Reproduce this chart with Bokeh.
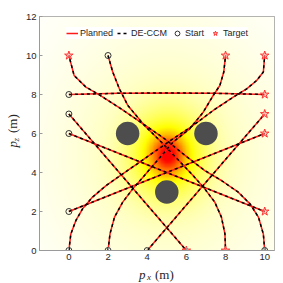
import numpy as np
from bokeh.plotting import figure
from bokeh.layouts import column, row
from bokeh.models import Range1d, Legend, LegendItem, FixedTicker
from bokeh.core.properties import value
from bokeh.embed import file_html
from bokeh.resources import INLINE

# ---------------- data ----------------
# trajectories: start -> target
path_x = [
    [0, 0.1, 0.36, 0.7, 1.21, 1.9, 2.75, 3.6, 4.45, 5.32, 6.34, 7.37, 8.39, 9.08, 9.59, 9.93, 10],
    [10, 9.93, 9.68, 9.25, 8.65, 7.79, 6.94, 5.9, 4.89, 4.03, 2.67, 1.56, 0.87, 0.27, 0],
    [2, 2.1, 2.33, 2.75, 3.26, 3.86, 4.59, 5.32, 6.17, 6.86, 7.37, 7.71, 7.91, 8],
    [2, 2.24, 2.58, 3.01, 3.86, 4.72, 5.53, 6.34, 6.94, 7.45, 7.79, 7.97, 8],
    [0, 2.5, 5, 7.5, 10],
    [0, 10],
    [0, 10],
    [0, 6],
    [4, 10],
]
path_y = [
    [0, 0.85, 1.54, 2.14, 2.74, 3.33, 3.93, 4.52, 5.12, 5.73, 6.41, 7.18, 7.86, 8.29, 8.72, 9.15, 10],
    [0, 0.85, 1.71, 2.39, 2.99, 3.59, 4.1, 4.9, 5.73, 6.33, 7.26, 7.98, 8.38, 8.97, 10],
    [0, 0.85, 1.71, 2.48, 3.16, 3.85, 4.7, 5.56, 6.24, 7.09, 7.95, 8.46, 9.15, 10],
    [10, 9.15, 8.29, 7.44, 6.41, 5.56, 4.7, 3.85, 3.16, 2.48, 1.71, 0.85, 0],
    [8, 8.06, 8.08, 8.06, 8],
    [6, 2],
    [2, 6],
    [7, 0],
    [0, 7],
]
start_x = [0, 10, 2, 2, 0, 0, 0, 0, 4]
start_y = [0, 0, 0, 10, 8, 6, 2, 7, 0]
target_x = [10, 0, 8, 8, 10, 10, 10, 6, 10]
target_y = [10, 10, 10, 0, 8, 2, 6, 0, 7]

# obstacles
obs_x = [3, 7, 5]
obs_y = [6, 6, 3]
obs_r = [0.6, 0.6, 0.6]

# background field parameters (centre, component weights and widths)
field_cx, field_cy = 5.05, 4.9
field_w = [0.55, 0.40, 0.12]
field_sigma = [0.55, 1.3, 4.0]
field_y_stretch = 1.15

x_ticks = [0, 2, 4, 6, 8, 10]
y_ticks = [0, 2, 4, 6, 8, 10, 12]
x_lim = (-1.5, 10.5)
y_lim = (0, 12)

INK = "#262626"
FRAME = "#9a9a9a"

# ---------------- main figure ----------------
MW, MH = 261, 266
p = figure(width=MW, height=MH, output_backend="svg", toolbar_location=None, title=None,
           x_range=Range1d(*x_lim), y_range=Range1d(*y_lim),
           min_border_left=17, min_border_right=9, min_border_top=16, min_border_bottom=16)
p.background_fill_color = "white"
p.border_fill_color = "white"
p.grid.visible = False
p.outline_line_color = FRAME
p.outline_line_width = 1

for ax in (p.xaxis[0], p.yaxis[0]):
    ax.axis_line_color = FRAME
    ax.major_tick_line_color = FRAME
    ax.minor_tick_line_color = None
    ax.major_tick_in = 3
    ax.major_tick_out = 0
    ax.major_label_text_font = "Liberation Sans"
    ax.major_label_text_font_size = "9.5px"
    ax.major_label_text_color = INK
p.xaxis[0].ticker = FixedTicker(ticks=x_ticks)
p.yaxis[0].ticker = FixedTicker(ticks=y_ticks)
p.xaxis[0].major_label_standoff = 3
p.yaxis[0].major_label_standoff = 3

# heat field image
nx, ny = 300, 300
gx = np.linspace(x_lim[0], x_lim[1], nx)
gy = np.linspace(y_lim[0], y_lim[1], ny)
X, Y = np.meshgrid(gx, gy)
R2 = (X - field_cx) ** 2 + ((Y - field_cy) / field_y_stretch) ** 2
I = np.clip(sum(w * np.exp(-R2 / (2 * s ** 2)) for w, s in zip(field_w, field_sigma)), 0, 1)
sv = 1 - 0.62 * I
rr = np.clip(sv / 0.375, 0, 1)
gg = np.clip((sv - 0.375) / 0.375, 0, 1)
bb = np.clip((sv - 0.75) / 0.25, 0, 1)
img = np.empty((ny, nx), dtype=np.uint32)
v = img.view(dtype=np.uint8).reshape((ny, nx, 4))
v[..., 0] = (rr * 255).astype(np.uint8)
v[..., 1] = (gg * 255).astype(np.uint8)
v[..., 2] = (bb * 255).astype(np.uint8)
v[..., 3] = 255
p.image_rgba(image=[img], x=x_lim[0], y=y_lim[0], dw=x_lim[1] - x_lim[0], dh=y_lim[1] - y_lim[0])

# obstacles
p.circle(x=obs_x, y=obs_y, radius=obs_r, fill_color="#4d4d4d", line_color=None)

# trajectories
r_plan = p.multi_line(xs=path_x, ys=path_y, line_color="#ff1a1a", line_width=1.5)
r_de = p.multi_line(xs=path_x, ys=path_y, line_color="black", line_width=1.5, line_dash="3 3")
r_start = p.scatter(x=start_x, y=start_y, marker="circle", size=6, fill_color=None,
                    line_color="#333333", line_width=1)
r_target = p.scatter(x=target_x, y=target_y, marker="star", size=9, fill_color="#ff9999",
                     fill_alpha=0.5, line_color="#ff3333", line_width=1)

legend = Legend(items=[
    LegendItem(label="Planned", renderers=[r_plan]),
    LegendItem(label="DE-CCM", renderers=[r_de]),
    LegendItem(label="Start", renderers=[r_start]),
    LegendItem(label="Target", renderers=[r_target]),
], orientation="horizontal", location=(27, 211))
legend.label_text_font = "Liberation Sans"
legend.label_text_font_size = "9px"
legend.label_text_color = INK
legend.glyph_width = 12
legend.glyph_height = 12
legend.label_standoff = 2
legend.spacing = 4
legend.padding = 6
legend.margin = 0
legend.border_line_color = None
legend.background_fill_color = "white"
legend.background_fill_alpha = 1
p.add_layout(legend)

# ---------------- axis-label strips ----------------
serif = value("Liberation Serif")


def strip(w, h):
    f = figure(width=w, height=h, output_backend="svg", toolbar_location=None, title=None,
               x_range=Range1d(0, w), y_range=Range1d(0, h),
               x_axis_location=None, y_axis_location=None,
               min_border=0, min_border_left=0, min_border_right=0,
               min_border_top=0, min_border_bottom=0)
    f.grid.visible = False
    f.outline_line_color = None
    f.background_fill_color = "white"
    f.border_fill_color = "white"
    return f


def put(f, x, y, txt, size, style, angle=0.0):
    f.text(x=[x], y=[y], text=[txt], angle=angle, text_font=serif, text_font_size=size,
           text_font_style=style, text_color=INK, text_align="left", text_baseline="alphabetic")


# y label:  p_z (m)   (rotated, reads bottom to top)
yl = strip(22, MH)
put(yl, 12.3, 117, "p", "13px", "italic", np.pi / 2)
put(yl, 15.0, 124, "z", "9px", "italic", np.pi / 2)
put(yl, 12.3, 133.5, "(m)", "13px", "normal", np.pi / 2)

# x label:  p_x (m)
xl = strip(MW + 22, 17)
put(xl, 138.5, 9.5, "p", "13px", "italic")
put(xl, 146.5, 7.0, "x", "9px", "italic")
put(xl, 154.5, 9.5, "(m)", "13px", "normal")

layout = column(row(yl, p, spacing=0), xl, spacing=0)

open("out.html", "w").write(file_html(layout, INLINE))
